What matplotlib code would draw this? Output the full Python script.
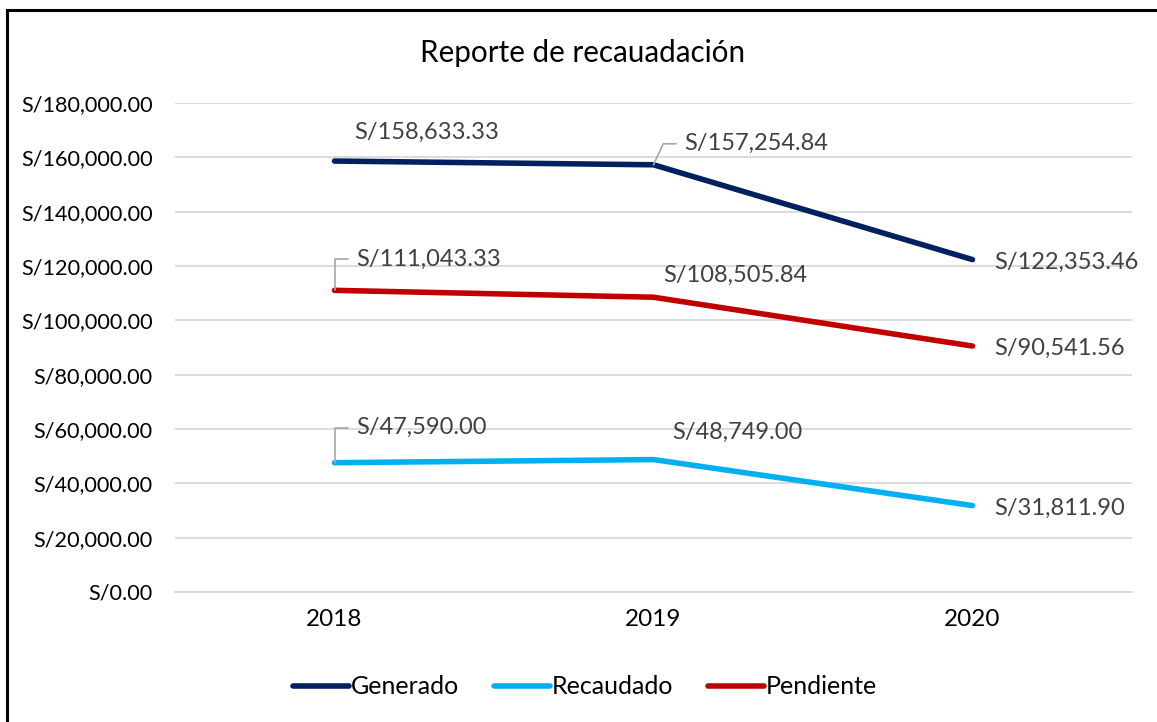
import matplotlib
matplotlib.use("Agg")
import matplotlib.pyplot as plt
from matplotlib.lines import Line2D

plt.rcParams['font.family'] = ['Lato', 'DejaVu Sans']

# donnees
annees = ["2018", "2019", "2020"]
generado = [158633.33, 157254.84, 122353.46]
recaudado = [47590.00, 48749.00, 31811.90]
pendiente = [111043.33, 108505.84, 90541.56]
graduations = [0, 20000, 40000, 60000, 80000, 100000, 120000, 140000, 160000, 180000]


def soles(v):
    return "S/{:,.2f}".format(v)


fig = plt.figure(figsize=(11.57, 7.22), dpi=100)
ax = fig.add_axes([175 / 1157, 1 - 592 / 722, (1132 - 175) / 1157, (592 - 103) / 722])

x = range(len(annees))
ax.plot(x, generado, color="#002060", linewidth=4, solid_capstyle="round", label="Generado")
ax.plot(x, recaudado, color="#00B0F0", linewidth=4, solid_capstyle="round", label="Recaudado")
ax.plot(x, pendiente, color="#C00000", linewidth=4, solid_capstyle="round", label="Pendiente")

ax.set_xlim(-0.5, 2.5)
ax.set_ylim(0, 180000)
ax.set_yticks(graduations)
ax.set_yticklabels([soles(v) for v in graduations])
ax.set_xticks(list(x))
ax.set_xticklabels(annees)
ax.tick_params(axis="y", length=0, pad=16, labelsize=15.6, labelcolor="#000000")
ax.tick_params(axis="x", length=0, pad=12, labelsize=17.5, labelcolor="#000000")
ax.grid(axis="y", color="#D9D9D9", linewidth=1.3)
ax.set_axisbelow(True)
for side in ["left", "right", "top"]:
    ax.spines[side].set_visible(False)
ax.spines["bottom"].set_color("#D9D9D9")
ax.spines["bottom"].set_linewidth(1.3)

# etiquettes de donnees (decalages en pixels, comme dans Excel)
gris = "#404040"
ligne_guide = dict(arrowstyle="-", color="#A6A6A6", linewidth=1.2, shrinkA=4, shrinkB=0)
etiquettes = [
    (0, generado[0], (20, 29), None),
    (1, generado[1], (31, 21), "angle,angleA=0,angleB=65,rad=0"),
    (2, generado[2], (22, -3), None),
    (0, pendiente[0], (22, 31), "angle,angleA=0,angleB=90,rad=0"),
    (1, pendiente[1], (10, 22), None),
    (2, pendiente[2], (22, -2), None),
    (0, recaudado[0], (22, 35), "angle,angleA=0,angleB=90,rad=0"),
    (1, recaudado[1], (19, 27), None),
    (2, recaudado[2], (22, -3), None),
]
for xi, yi, decal, guide in etiquettes:
    fleche = None
    if guide is not None:
        fleche = dict(ligne_guide, connectionstyle=guide, relpos=(0, 0.5))
    ax.annotate(soles(yi), xy=(xi, yi), xytext=decal, textcoords="offset pixels",
                ha="left", va="center", fontsize=17, color=gris, arrowprops=fleche)

fig.text(583 / 1157, 1 - 53 / 722, "Reporte de recauadación", ha="center", va="center",
         fontsize=21.3, color="#000000")

fig.legend(loc="center", bbox_to_anchor=(585 / 1157, 1 - 687 / 722), ncol=3, frameon=False,
           fontsize=18, handlelength=2.24, handletextpad=0.1, columnspacing=1.36)

# cadre noir (haut et gauche visibles)
fig.add_artist(Line2D([7 / 1157, 7 / 1157], [0, 1 - 10 / 722], color="black", linewidth=2.2,
                      transform=fig.transFigure))
fig.add_artist(Line2D([7 / 1157, 1], [1 - 10 / 722, 1 - 10 / 722], color="black", linewidth=2.2,
                      transform=fig.transFigure))

fig.savefig("out.png", dpi=100)
